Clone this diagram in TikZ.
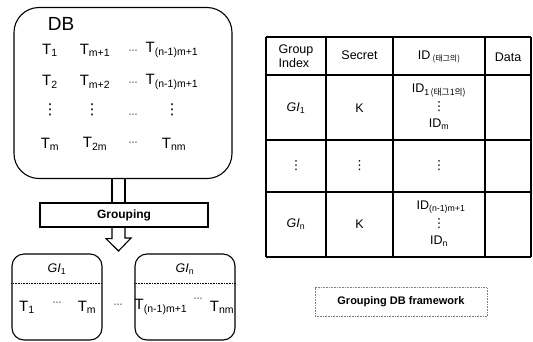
\documentclass[tikz,border=0pt]{standalone}
\usepackage{fontspec}
\setmainfont{Liberation Sans}
\newfontfamily\kr{Noto Sans CJK KR}
\newfontfamily\dv{DejaVu Sans}
\newcommand{\sbs}[1]{\textsubscript{#1}}
\newcommand{\hdots}{{\dv\fontsize{9}{9}\selectfont ⋯}}
\newcommand{\vdts}{{\dv ⋮}}
\begin{document}
\begin{tikzpicture}[x=1pt,y=-1pt,
  every node/.style={inner sep=0pt},
  bigt/.style={font=\fontsize{15}{17}\selectfont},
  tbl/.style={font=\fontsize{12.5}{14}\selectfont},
  rbox/.style={draw, line width=1.1pt},
  line/.style={line width=1.1pt},
]
\useasboundingbox (0,0) rectangle (533,341);

% DB box
\node[rbox, rounded corners=25, minimum width=218, minimum height=171] (db) at (123,93) {};
\node[font=\fontsize{19}{20}\selectfont] (dbl) at (61,24) {DB};
\node[bigt] (t11) at (50,50) {T\sbs{1}};
\node[bigt] (t12) at (95,50) {T\sbs{m+1}};
\node[bigt] (t13) at (133,52) {\hdots};
\node[bigt] (t14) at (172,50) {T\sbs{(n-1)m+1}};
\node[bigt] (t21) at (50,82) {T\sbs{2}};
\node[bigt] (t22) at (95,82) {T\sbs{m+2}};
\node[bigt] (t23) at (133,84) {\hdots};
\node[bigt] (t24) at (172,82) {T\sbs{(n-1)m+1}};
\node[bigt] (t31) at (50,110) {\vdts};
\node[bigt] (t32) at (92,110) {\vdts};
\node[bigt] (t33) at (133,116) {\hdots};
\node[bigt] (t34) at (172,110) {\vdts};
\node[bigt] (t41) at (50,144) {T\sbs{m}};
\node[bigt] (t42) at (95,144) {T\sbs{2m}};
\node[bigt] (t43) at (133,144) {\hdots};
\node[bigt] (t44) at (174,144) {T\sbs{nm}};

% Grouping box
\node[draw, line width=1.1pt, fill=white, minimum width=168, minimum height=24,
      font=\fontsize{12}{14}\selectfont\bfseries] (grp) at (124,215) {Grouping};

% block arrow
\coordinate (sl) at (112,0);
\coordinate (sr) at (125,0);
\draw[line] (db.south -| sl) -- (grp.north -| sl) (db.south -| sr) -- (grp.north -| sr);
\coordinate (tip) at (118.5,251);
\draw[line, line join=miter] (grp.south -| sl) -- ++(0,11) -- ++(-6,0) -- (tip) -- (131,238) -- (125,238) -- (grp.south -| sr);

% GI boxes
\node[rbox, rounded corners=12, minimum width=90, minimum height=86] (g1) at (57,297) {};
\node[rbox, rounded corners=12, minimum width=100, minimum height=86] (gn) at (185,297) {};
\draw[line width=0.6pt, densely dotted] (g1.west |- 0,283) -- (g1.east |- 0,283);
\draw[line width=0.6pt, densely dotted] (gn.west |- 0,283) -- (gn.east |- 0,283);
\node[tbl] (g1l) at (57,269) {\textit{GI}\sbs{1}};
\node[tbl] (gnl) at (185,269) {\textit{GI}\sbs{n}};
\node[bigt] (g1a) at (27,307) {T\sbs{1}};
\node[bigt] (g1b) at (57,304) {\hdots};
\node[bigt] (g1c) at (87,307) {T\sbs{m}};
\node[bigt] (mid) at (118,306) {\hdots};
\node[bigt] (gna) at (161,307) {T\sbs{(n-1)m+1}};
\node[bigt] (gnb) at (198,300) {\hdots};
\node[bigt] (gnc) at (222,307) {T\sbs{nm}};

% table
\foreach \y in {37,75,140,192,257} \draw[line] (266,\y) -- (531,\y);
\foreach \x in {266,326,393,485,531} \draw[line] (\x,37) -- (\x,257);
\node[tbl, align=left] (h1) at (296,56) {Group\\Index};
\node[tbl] (h2) at (359.5,55) {Secret};
\node[tbl] (h3) at (439,57) {ID\,\raisebox{-2pt}{\fontsize{8}{8}\kr(태그의)}};
\node[tbl] (h4) at (508,57) {Data};
\node[tbl] (c11) at (296,108) {\textit{GI}\sbs{1}};
\node[tbl] (c12) at (359.5,108) {K};
\node[tbl] (c13a) at (439,91) {ID\sbs{1\,{\kr(태그1의)}}};
\node[tbl] (c13b) at (439,107) {\vdts};
\node[tbl] (c13c) at (439,124) {ID\sbs{m}};
\node[tbl] (c21) at (296,166) {\vdts};
\node[tbl] (c22) at (359.5,166) {\vdts};
\node[tbl] (c23) at (439,166) {\vdts};
\node[tbl] (c31) at (296,224) {\textit{GI}\sbs{n}};
\node[tbl] (c32) at (359.5,224) {K};
\node[tbl] (c33a) at (441,207) {ID\sbs{(n-1)m+1}};
\node[tbl] (c33b) at (439,224) {\vdts};
\node[tbl] (c33c) at (439,241) {ID\sbs{n}};

% caption
\node[draw=gray, line width=0.6pt, densely dotted, minimum width=172, minimum height=29,
      font=\fontsize{11}{13}\selectfont\bfseries] (cap) at (401,302) {Grouping DB framework};
\end{tikzpicture}
\end{document}
